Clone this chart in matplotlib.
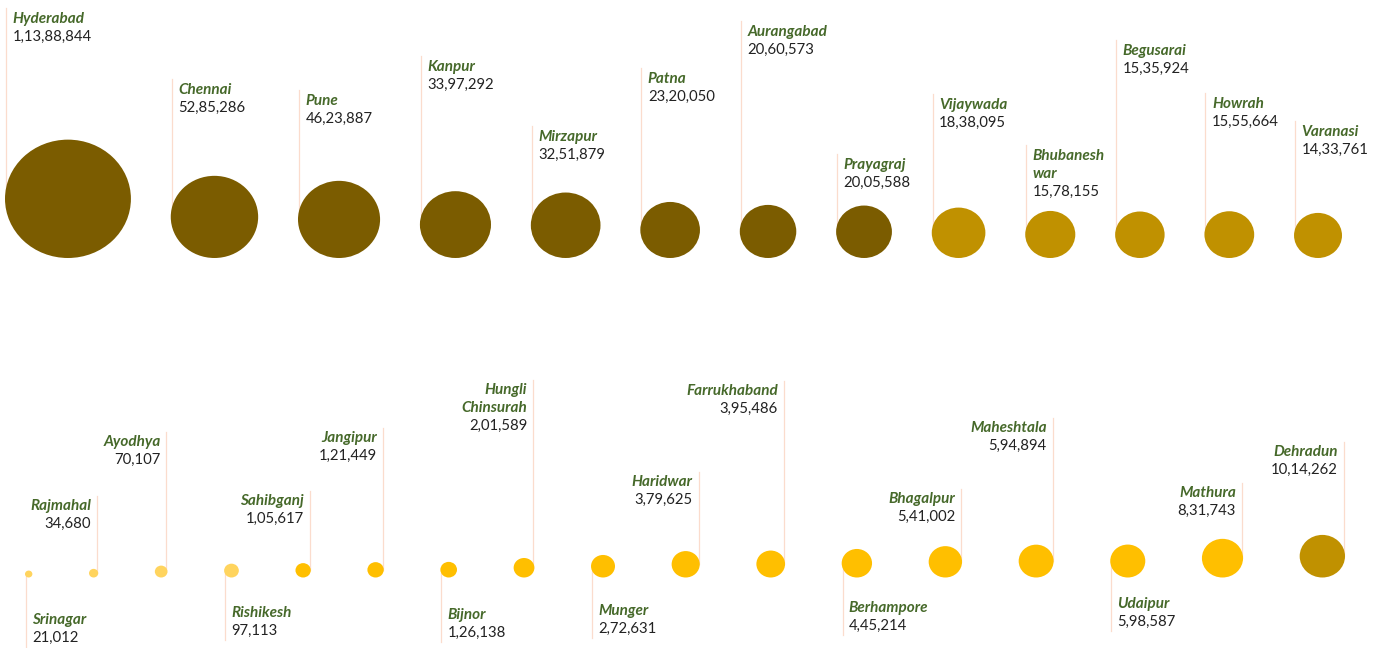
import numpy as np
import matplotlib.pyplot as plt
from matplotlib.patches import Ellipse

# top row: big cities
top_cities = ["Hyderabad", "Chennai", "Pune", "Kanpur", "Mirzapur", "Patna", "Aurangabad",
              "Prayagraj", "Vijaywada", "Bhubanesh\nwar", "Begusarai", "Howrah", "Varanasi"]
top_pop = [11388844, 5285286, 4623887, 3397292, 3251879, 2320050, 2060573,
           2005588, 1838095, 1578155, 1535924, 1555664, 1433761]

# bottom row: small towns
bot_cities = ["Srinagar", "Rajmahal", "Ayodhya", "Rishikesh", "Sahibganj", "Jangipur", "Bijnor",
              "Hungli\nChinsurah", "Munger", "Haridwar", "Farrukhaband", "Berhampore", "Bhagalpur",
              "Maheshtala", "Udaipur", "Mathura", "Dehradun"]
bot_pop = [21012, 34680, 70107, 97113, 105617, 121449, 126138, 201589, 272631, 379625,
           395486, 445214, 541002, 594894, 598587, 831743, 1014262]

# label layout (baseline of the city name, px from top)
top_label_y = [23, 94, 105, 71, 141, 83, 36, 169, 109, 160, 55, 108, 136]
bot_label_y = [624, 510, 446, 617, 505, 442, 619, 394, 615, 486, 395, 612, 503, 432, 608, 497, 456]
bot_side = ["below", "above", "above", "below", "above", "above", "below", "above", "below",
            "above", "above", "below", "above", "above", "below", "above", "above"]

W, H = 1383, 648
LINE_GAP = 17.7
NAME_C = "#46692a"
NUM_C = "#222222"
LEADER_C = "#fbdccd"
FONT = "Lato"


def indian_fmt(n):
    s = str(n)
    if len(s) <= 3:
        return s
    head, tail = s[:-3], s[-3:]
    parts = []
    while len(head) > 2:
        parts.insert(0, head[-2:])
        head = head[:-2]
    if head:
        parts.insert(0, head)
    return ",".join(parts + [tail])


def colour(p):
    if p < 100000:
        return "#ffd45e"
    if p < 1000000:
        return "#ffbf00"
    if p < 2000000:
        return "#c09100"
    return "#7b5c00"


def pack(diams, left, right):
    gap = (right - left - sum(diams)) / (len(diams) - 1)
    xs, x = [], left
    for d in diams:
        xs.append(x + d / 2)
        x += d + gap
    return xs


fig = plt.figure(figsize=(W / 100, H / 100), dpi=100)
ax = fig.add_axes([0, 0, 1, 1])
ax.set_xlim(0, W)
ax.set_ylim(H, 0)
ax.axis("off")


def label(x, y, name, num, ha):
    lines = name.split("\n")
    for i, ln in enumerate(lines):
        ax.text(x, y + i * LINE_GAP, ln, ha=ha, va="baseline", color=NAME_C,
                fontsize=11, fontweight="bold", fontstyle="italic", family=FONT)
    ax.text(x, y + len(lines) * LINE_GAP, indian_fmt(num), ha=ha, va="baseline",
            color=NUM_C, fontsize=10.7, family=FONT)
    return y + len(lines) * LINE_GAP


def row(pops, names, k, c, left, right, base, label_y, sides):
    diams = [k * np.sqrt(p / 1e6) + c for p in pops]
    xs = pack(diams, left, right)
    for x, d, p, nm, ly, sd in zip(xs, diams, pops, names, label_y, sides):
        h = d * 0.94
        cy = base - h / 2
        ax.add_patch(Ellipse((x, cy), d, h, facecolor=colour(p), edgecolor="none", zorder=3))
        if sd == "up":
            lx = x - d / 2 + 1
            ax.plot([lx, lx], [ly - 15, cy], color=LEADER_C, lw=0.9, zorder=1)
            label(lx + 6.5, ly, nm, p, "left")
        elif sd == "above":
            lx = x + d / 2 - 1
            ax.plot([lx, lx], [ly - 14, cy], color=LEADER_C, lw=0.9, zorder=1)
            label(lx - 6, ly, nm, p, "right")
        else:
            lx = x - d / 2 + 1
            nb = label(lx + 6, ly, nm, p, "left")
            ax.plot([lx, lx], [cy, nb + 5], color=LEADER_C, lw=0.9, zorder=1)


row(top_pop, top_cities, 35.8, 5.1, 5, 1342, 258, top_label_y, ["up"] * len(top_pop))
row(bot_pop, bot_cities, 44.0, 1.0, 25, 1345, 577.5, bot_label_y, bot_side)

fig.savefig("out.png", dpi=100, facecolor="white")
